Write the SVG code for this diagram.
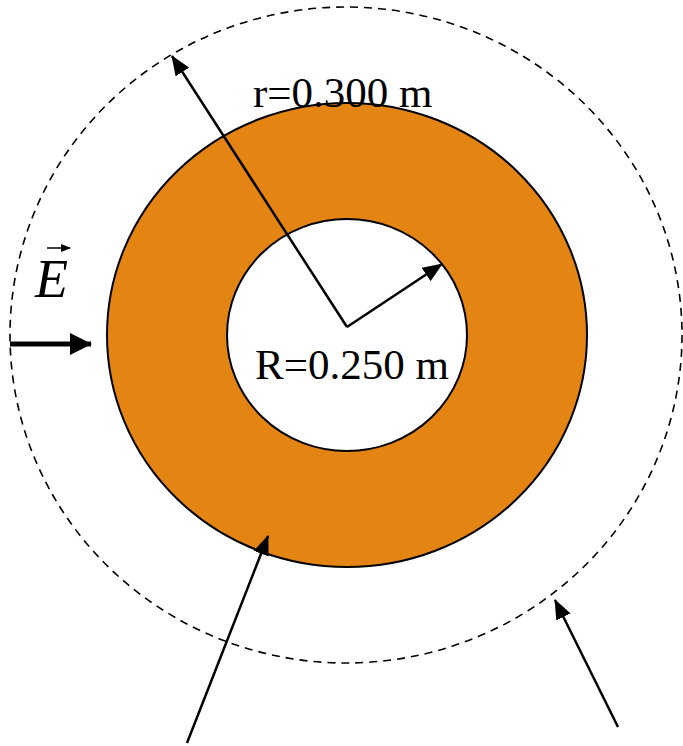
<svg xmlns="http://www.w3.org/2000/svg" width="683" height="746" viewBox="0 0 683 746">
<defs>
<style>
.lbl{font-family:"Liberation Serif","Times New Roman",serif;fill:#000}
.ln{stroke:#000;stroke-width:2.5;fill:none}
</style>
<marker id="ah" markerWidth="10" markerHeight="8" refX="9" refY="4" orient="auto" markerUnits="userSpaceOnUse" viewBox="0 0 10 8">
<path d="M0,0 L10,4 L0,8 Z" fill="#000"/>
</marker>
<marker id="ahl" markerWidth="20" markerHeight="16" refX="19" refY="8" orient="auto" markerUnits="userSpaceOnUse" viewBox="0 0 20 16">
<path d="M0,0 L20,8 L0,16 Z" fill="#000"/>
</marker>
<marker id="ahe" markerWidth="22" markerHeight="22" refX="21" refY="11" orient="auto" markerUnits="userSpaceOnUse" viewBox="0 0 22 22">
<path d="M0,0 L22,11 L0,22 Z" fill="#000"/>
</marker>
</defs>
<rect width="683" height="746" fill="#fff"/>
<g id="gauss-surface">
<ellipse cx="346" cy="335" rx="336" ry="328" fill="none" stroke="#000" stroke-width="1.6" stroke-dasharray="8,6"/>
</g>
<g id="shell">
<ellipse cx="347" cy="335" rx="240" ry="232" fill="#E48413" stroke="#000" stroke-width="2"/>
<ellipse cx="347" cy="335" rx="120" ry="116" fill="#fff" stroke="#000" stroke-width="2"/>
</g>
<g id="connectors">
<line class="ln" x1="347" y1="327" x2="172" y2="56" marker-end="url(#ahl)"/>
<line class="ln" x1="347" y1="327" x2="442" y2="264" marker-end="url(#ahl)"/>
<line class="ln" x1="187" y1="743" x2="268" y2="536" marker-end="url(#ahl)"/>
<line class="ln" x1="618" y1="727" x2="555" y2="600" marker-end="url(#ahl)"/>
<line x1="10" y1="344" x2="91" y2="344" stroke="#000" stroke-width="5" marker-end="url(#ahe)"/>
</g>
<g id="labels">
<text class="lbl" x="253" y="107" font-size="43">r=0.300 m</text>
<text class="lbl" x="255" y="379" font-size="43">R=0.250 m</text>
<text class="lbl" x="35" y="297" font-size="54" font-style="italic">E</text>
<line x1="47" y1="248" x2="70" y2="248" stroke="#000" stroke-width="1.5" marker-end="url(#ah)"/>
</g>
</svg>
